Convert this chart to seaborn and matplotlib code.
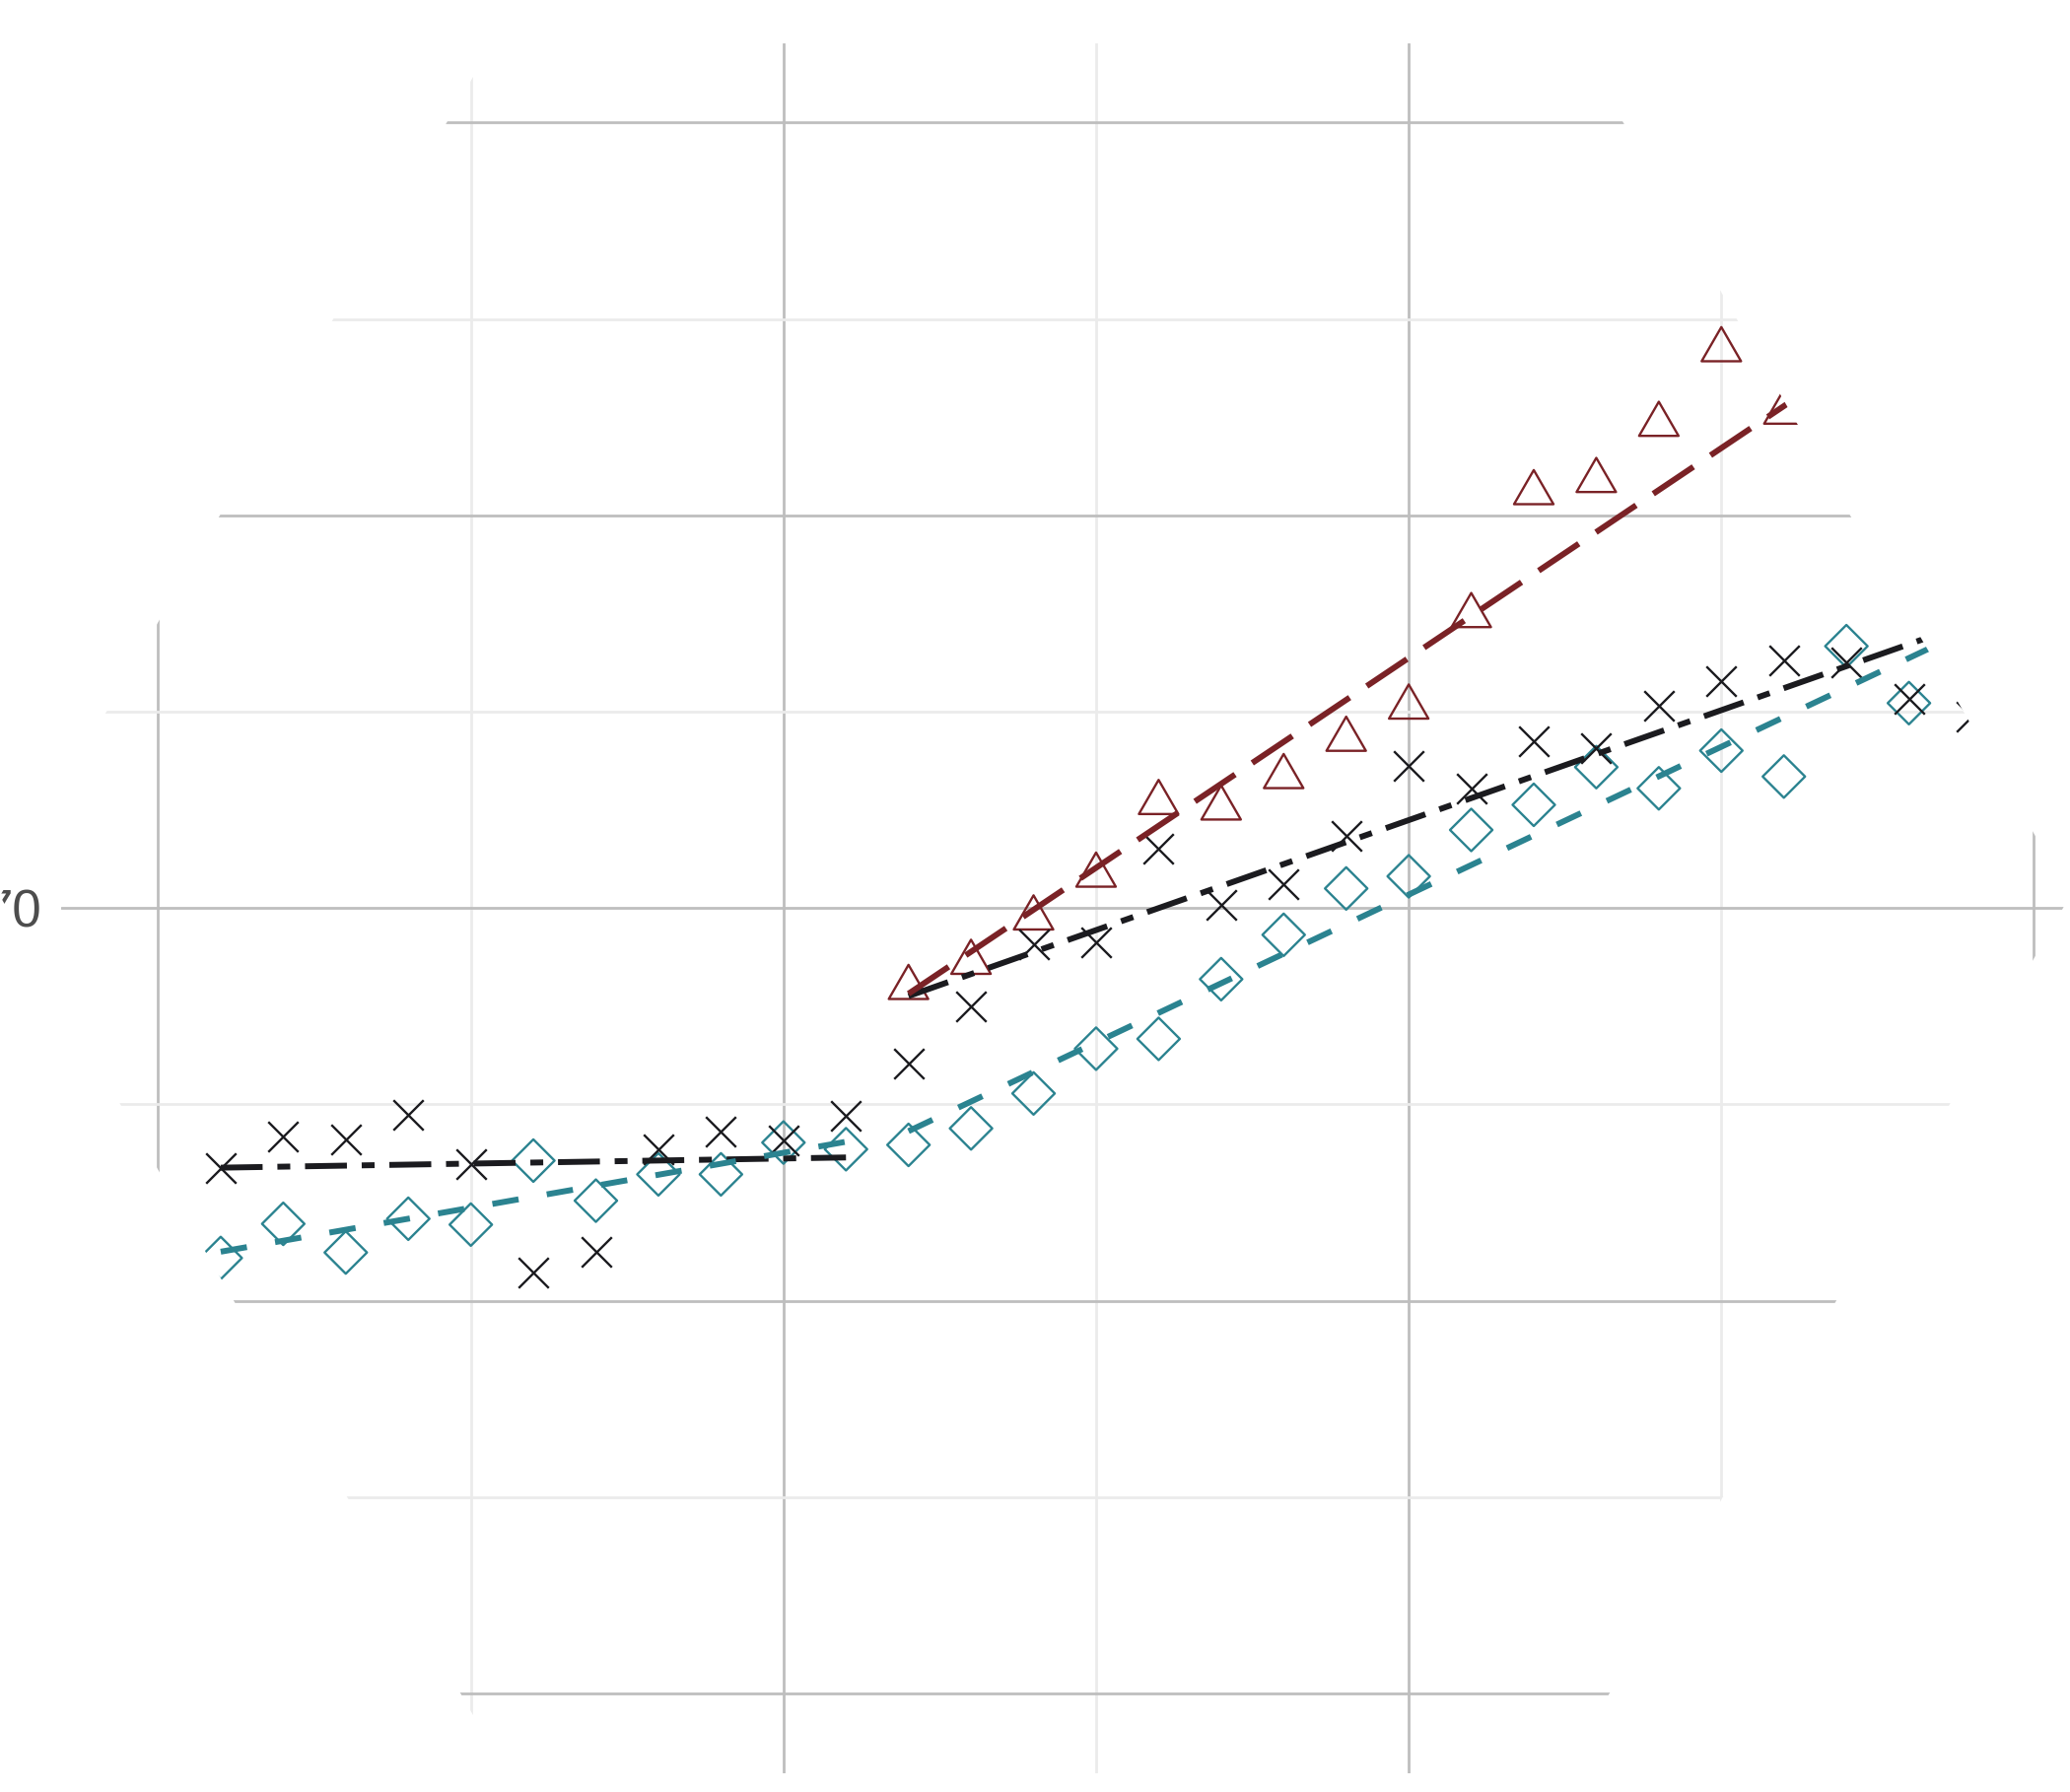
import matplotlib
matplotlib.use("Agg")
import matplotlib.pyplot as plt
from matplotlib.patches import Polygon
from matplotlib.path import Path
import pandas as pd
import seaborn as sns

# ==== Dados ====
years = list(range(1991, 2020))
black_vals = [63.39, 64.18, 64.11, 64.74, 63.49, 60.71, 61.25, 63.85, 64.31, 64.08,
              64.72, 66.04, 67.49, 69.08, 69.12, 71.52, 70.08, 70.62, 71.84, 73.61,
              73.05, 74.25, 74.08, 75.14, 75.77, 76.31, 76.25, 75.33, 74.88]

teal_years = list(range(1991, 2019))
teal_vals = [61.09, 61.96, 61.23, 62.09, 61.94, 63.57, 62.55, 63.22, 63.22, 64.03,
             63.86, 63.97, 64.39, 65.28, 66.42, 66.67, 68.19, 69.32, 70.50, 70.81,
             71.99, 72.63, 73.59, 73.05, 74.01, 73.35, 76.67, 75.22]

red_years = list(range(2002, 2017))
red_vals = [68.12, 68.76, 69.89, 70.98, 72.83, 72.69, 73.49, 74.44, 75.26, 77.59,
            80.72, 81.03, 82.46, 84.36, 82.77]

# tendências por período (antes / depois da quebra)
seg1_years = [1991, 2001]
seg2_years = [2002, 2019]
black_fit_1 = [63.39, 63.65]
black_fit_2 = [67.76, 77.28]
teal_fit_1 = [61.25, 64.05]
teal_fit_2 = [64.32, 77.12]
red_fit = [67.82, 85.99]

x_major = [1990, 2000, 2010, 2020]
x_minor = [1995, 2005, 2015]
y_major = [50, 60, 70, 80, 90]
y_minor = [55, 65, 75, 85]
y_labels = ["50", "60", "70", "80", "90"]

BLACK = "#1b1b1f"
TEAL = "#2b8390"
RED = "#7a2226"

sns.set_theme(style="white")
plt.rcParams["font.family"] = ["Liberation Sans", "DejaVu Sans"]
plt.rcParams["lines.scale_dashes"] = False

fig = plt.figure(figsize=(21, 18.18), dpi=100)
ax = fig.add_axes([0.0293, 0.0107, 0.9687, 0.9651])

# ==== Pontos ====
diamond = Path([(0, 0.5), (0.5, 0), (0, -0.5), (-0.5, 0), (0, 0.5)], closed=True)
triangle = Path([(0, 0.433), (-0.5, -0.433), (0.5, -0.433), (0, 0.433)], closed=True)

sns.scatterplot(x=teal_years, y=teal_vals, marker=diamond, s=31 ** 2,
                facecolor="none", edgecolor=TEAL, linewidth=1.7, ax=ax, zorder=3)
sns.scatterplot(x=red_years, y=red_vals, marker=triangle, s=28.8 ** 2,
                facecolor="none", edgecolor=RED, linewidth=1.7, ax=ax, zorder=3)
sns.scatterplot(x=years, y=black_vals, marker="x", s=22 ** 2,
                color=BLACK, linewidth=1.7, ax=ax, zorder=3)

# ==== Linhas de tendência ====
fits = pd.DataFrame({
    "year": seg1_years + seg2_years + seg1_years + seg2_years + seg2_years,
    "value": black_fit_1 + black_fit_2 + teal_fit_1 + teal_fit_2 + red_fit,
    "series": ["black"] * 4 + ["teal"] * 4 + ["red"] * 2,
    "segment": ["b1", "b1", "b2", "b2", "t1", "t1", "t2", "t2", "r", "r"],
})
sns.lineplot(data=fits, x="year", y="value", hue="series", style="series",
             units="segment", estimator=None, sort=False, legend=False,
             palette={"black": BLACK, "teal": TEAL, "red": RED},
             dashes={"black": (30.6, 10.8, 9.4, 10.8), "teal": (19.4, 20.9),
                     "red": (35.3, 15.1)},
             linewidth=4.3, ax=ax, zorder=4)

# ==== Eixos ====
ax.set_xlim(1988.44, 2020.51)
ax.set_ylim(47.98, 92.02)
ax.set_xticks(x_major)
ax.set_xticks(x_minor, minor=True)
ax.set_yticks(y_major, y_labels)
ax.set_yticks(y_minor, minor=True)
ax.set_axisbelow(True)
ax.grid(which="major", color="#bebebe", linewidth=2.0)
ax.grid(which="minor", color="#ebebeb", linewidth=2.0)
ax.tick_params(which="both", length=0, pad=14, labelsize=38,
               labelcolor="#4d4d4d", labelbottom=False)
ax.set_xlabel("")
ax.set_ylabel("")
for s in ax.spines.values():
    s.set_visible(False)

# ==== Máscara em losango (cantos brancos por cima de tudo) ====
corners = [
    [(0, 0.5), (0, 1), (0.25, 1)],
    [(1, 0.5), (1, 1), (0.75, 1)],
    [(0, 0.5), (0, 0), (0.25, 0)],
    [(1, 0.5), (1, 0), (0.75, 0)],
]
for c in corners:
    fig.add_artist(Polygon(c, closed=True, transform=fig.transFigure,
                           facecolor="white", edgecolor="none", zorder=10))

fig.savefig("out.png", dpi=100, facecolor="white")
plt.close(fig)
